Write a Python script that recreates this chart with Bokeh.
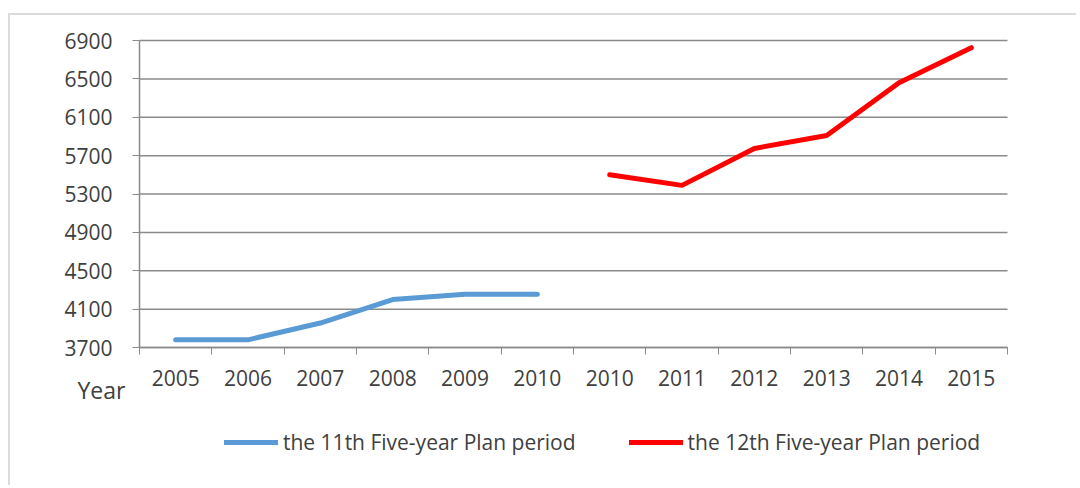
from bokeh.plotting import figure
from bokeh.models import FixedTicker, Legend, LegendItem, Label, Range1d
from bokeh.embed import file_html
from bokeh.resources import INLINE

# ---- data ----
categories = ["2005", "2006", "2007", "2008", "2009", "2010",
              "2010", "2011", "2012", "2013", "2014", "2015"]
plan11_values = [3780, 3780, 3955, 4200, 4255, 4255]
plan12_values = [5500, 5390, 5775, 5910, 6460, 6825]
y_ticks = [3700, 4100, 4500, 4900, 5300, 5700, 6100, 6500, 6900]
series_names = ["the 11th Five-year Plan period", "the 12th Five-year Plan period"]
series_colors = ["#5B9BD5", "#FF0000"]
x_title = "Year"

# ---- layout constants (canvas pixels) ----
W, H = 1068, 472
AREA_L, AREA_R, AREA_T, AREA_B = 129, 997, 25, 332   # plotting area inside the canvas

FONT = "Open Sans"
TEXT = "#404040"
GRID = "#8a8a8a"

n = len(categories)
x_pos = [i + 0.5 for i in range(n)]
x11 = x_pos[:len(plan11_values)]
x12 = x_pos[len(plan11_values):]

ux = n / (AREA_R - AREA_L)
uy = (y_ticks[-1] - y_ticks[0]) / (AREA_B - AREA_T)
x_range = Range1d(-AREA_L * ux, (W - AREA_L) * ux)
y_range = Range1d(y_ticks[0] - (H - AREA_B) * uy, y_ticks[-1] + AREA_T * uy)

p = figure(width=W, height=H, output_backend="svg", toolbar_location=None,
           x_range=x_range, y_range=y_range,
           min_border=0, min_border_left=0, min_border_right=0,
           min_border_top=0, min_border_bottom=0)
p.outline_line_color = None
p.styles = {"border-top": "2px solid #dcdcdc", "border-left": "2px solid #dcdcdc",
            "margin-top": "13px", "margin-left": "8px"}
p.xgrid.grid_line_color = None
p.ygrid.grid_line_color = None

# horizontal gridlines across the plotting area
p.segment(x0=[0] * len(y_ticks), x1=[n] * len(y_ticks), y0=y_ticks, y1=y_ticks,
          line_color=GRID, line_width=1.5)

r1 = p.line(x11, plan11_values, line_color=series_colors[0], line_width=5,
            line_cap="round", line_join="round")
r2 = p.line(x12, plan12_values, line_color=series_colors[1], line_width=5,
            line_cap="round", line_join="round")

# x axis (at the 3700 baseline)
xa = p.xaxis[0]
xa.fixed_location = y_ticks[0]
xa.bounds = (0, n)
xa.ticker = FixedTicker(ticks=x_pos, minor_ticks=list(range(n + 1)))
xa.major_label_overrides = {x: c for x, c in zip(x_pos, categories)}
xa.major_tick_out = 0
xa.major_tick_in = 0
xa.minor_tick_out = 7
xa.minor_tick_in = 0
xa.minor_tick_line_color = GRID
xa.axis_line_color = GRID
xa.axis_line_width = 1.5
xa.major_label_standoff = 15
xa.major_label_text_font = FONT
xa.major_label_text_font_size = "21px"
xa.major_label_text_color = TEXT

# y axis (at the left edge of the plotting area)
ya = p.yaxis[0]
ya.fixed_location = 0
ya.bounds = (y_ticks[0], y_ticks[-1])
ya.ticker = FixedTicker(ticks=y_ticks)
ya.major_tick_out = 7
ya.major_tick_in = 0
ya.major_tick_line_color = GRID
ya.minor_tick_line_color = None
ya.axis_line_color = GRID
ya.axis_line_width = 1.5
ya.major_label_standoff = 20
ya.major_label_text_font = FONT
ya.major_label_text_font_size = "21px"
ya.major_label_text_color = TEXT

p.add_layout(Label(x=67, y=98, x_units="screen", y_units="screen", text=x_title,
                   text_font=FONT, text_font_size="23px", text_color=TEXT,
                   text_align="left", text_baseline="middle"))

legend = Legend(items=[LegendItem(label=series_names[0], renderers=[r1]),
                       LegendItem(label=series_names[1], renderers=[r2])],
                orientation="horizontal", location=(214, 31),
                glyph_width=54, glyph_height=20, label_standoff=5, spacing=53,
                padding=0, margin=0, border_line_color=None,
                background_fill_alpha=0, label_text_font=FONT,
                label_text_font_size="21px", label_text_color=TEXT)
p.add_layout(legend)

open("out.html", "w").write(file_html(p, INLINE))
